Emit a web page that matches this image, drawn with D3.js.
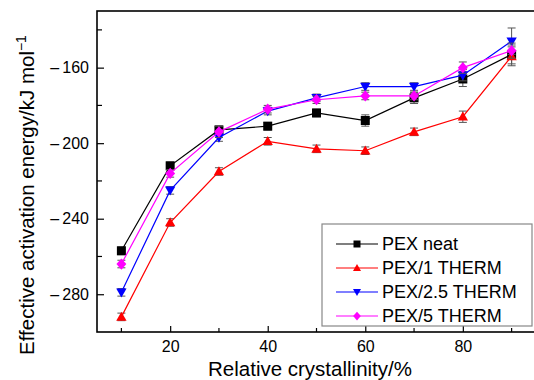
<!DOCTYPE html>
<html>
<head>
<meta charset="utf-8">
<script src="https://cdn.jsdelivr.net/npm/d3@7"></script>
<style>
  body { margin: 0; background: #fff; }
  svg { display: block; font-family: "Liberation Sans", Arial, sans-serif; }
</style>
</head>
<body>
<div id="chart"></div>
<script>
// relative crystallinity (%)
const crystallinity = [10, 20, 30, 40, 50, 60, 70, 80, 90];

const seriesNames = ["PEX neat", "PEX/1 THERM", "PEX/2.5 THERM", "PEX/5 THERM"];
const pexNeat   = [-257, -212, -193, -191, -184, -188, -176, -166, -153];
const pex1      = [-292, -242, -215, -199, -203, -204, -194, -186, -154];
const pex25     = [-279, -225, -197, -183, -176, -170, -170, -164, -146];
const pex5      = [-264, -216, -194, -182, -177, -175, -175, -160, -151];
const errNeat   = [2, 2, 2, 2, 2, 3, 3, 4, 5];
const err1      = [2, 2, 2, 2, 2, 2, 2, 3, 5];
const err25     = [2, 2, 2, 2, 2, 2, 2, 3, 7];
const err5      = [2, 2, 3, 2, 2, 2, 2, 3, 4];

const yTicks = [-160, -200, -240, -280];
const xTicks = [20, 40, 60, 80];

const colors = ["#000000", "#ff0000", "#0000ff", "#ff00ff"];
const symbols = ["square", "up", "down", "diamond"];

const series = seriesNames.map((name, i) => ({
  name,
  color: colors[i],
  symbol: symbols[i],
  values: [pexNeat, pex1, pex25, pex5][i].map((v, j) => ({
    x: crystallinity[j], y: v, e: [errNeat, err1, err25, err5][i][j]
  }))
}));

const W = 534, H = 380;
const margin = {top: 11, left: 97, bottom: 48, right: -2};
const width = W - margin.left - margin.right;
const height = H - margin.top - margin.bottom;

const svg = d3.select("#chart").append("svg")
  .attr("width", W).attr("height", H);
const g = svg.append("g").attr("transform", `translate(${margin.left},${margin.top})`);

const x = d3.scaleLinear().domain([5, 95]).range([0, width]);
const y = d3.scaleLinear().domain([-300, -130]).range([height, 0]);

// frame
g.append("rect")
  .attr("width", width).attr("height", height)
  .attr("fill", "none").attr("stroke", "#000").attr("stroke-width", 1.6);

// x axis (ticks inside)
const xAxisG = g.append("g")
  .attr("transform", `translate(0,${height})`)
  .call(d3.axisBottom(x).tickValues(xTicks).tickSize(-6).tickPadding(9).tickFormat(d3.format("d")));
xAxisG.select(".domain").remove();
xAxisG.selectAll("text").attr("font-size", 16).attr("fill", "#000");
xAxisG.selectAll(".tick line").attr("stroke-width", 1.2);
g.append("g").attr("transform", `translate(0,${height})`)
  .selectAll("line").data([10, 30, 50, 70, 90]).join("line")
  .attr("x1", d => x(d)).attr("x2", d => x(d))
  .attr("y1", 0).attr("y2", -4)
  .attr("stroke", "#000").attr("stroke-width", 1.2);

// y axis (ticks inside)
const yAxisG = g.append("g")
  .call(d3.axisLeft(y).tickValues(yTicks).tickSize(-7).tickPadding(8)
    .tickFormat(d => "\u2013\u2009" + Math.abs(d)));
yAxisG.select(".domain").remove();
yAxisG.selectAll("text").attr("font-size", 16).attr("fill", "#000");
yAxisG.selectAll(".tick line").attr("stroke-width", 1.2);
g.append("g")
  .selectAll("line").data([-140, -180, -220, -260]).join("line")
  .attr("x1", 0).attr("x2", 5)
  .attr("y1", d => y(d)).attr("y2", d => y(d))
  .attr("stroke", "#000").attr("stroke-width", 1.2);

// axis titles
svg.append("text")
  .attr("x", 310).attr("y", 376)
  .attr("text-anchor", "middle")
  .attr("font-size", 20.5)
  .text("Relative crystallinity/%");

const yTitle = svg.append("text")
  .attr("transform", `translate(34,${191 + 4}) rotate(-90)`)
  .attr("text-anchor", "middle")
  .attr("font-size", 20.5);
yTitle.append("tspan").text("Effective activation energy/kJ mol");
yTitle.append("tspan").attr("dy", -8).attr("font-size", 14).text("\u22121");

const symbolPath = (type, s) => {
  if (type === "square") return `M${-s},${-s}H${s}V${s}H${-s}Z`;
  if (type === "up") return `M0,${-s * 1.15}L${s * 1.15},${s * 0.85}L${-s * 1.15},${s * 0.85}Z`;
  if (type === "down") return `M0,${s * 1.15}L${s * 1.15},${-s * 0.85}L${-s * 1.15},${-s * 0.85}Z`;
  return `M0,${-s * 1.25}L${s * 1.1},0L0,${s * 1.25}L${-s * 1.1},0Z`;
};

const line = d3.line().x(d => x(d.x)).y(d => y(d.y));

const sg = g.selectAll("g.series").data(series).join("g").attr("class", "series");

// error bars
sg.each(function(s) {
  const eb = d3.select(this).selectAll("g.err").data(s.values).join("g").attr("class", "err")
    .attr("stroke", "#555").attr("stroke-width", 1);
  eb.append("line")
    .attr("x1", d => x(d.x)).attr("x2", d => x(d.x))
    .attr("y1", d => y(d.y - d.e)).attr("y2", d => y(d.y + d.e));
  eb.append("line")
    .attr("x1", d => x(d.x) - 4).attr("x2", d => x(d.x) + 4)
    .attr("y1", d => y(d.y + d.e)).attr("y2", d => y(d.y + d.e));
  eb.append("line")
    .attr("x1", d => x(d.x) - 4).attr("x2", d => x(d.x) + 4)
    .attr("y1", d => y(d.y - d.e)).attr("y2", d => y(d.y - d.e));
});

sg.append("path")
  .attr("d", s => line(s.values))
  .attr("fill", "none")
  .attr("stroke", s => s.color)
  .attr("stroke-width", 1.2);

sg.each(function(s) {
  d3.select(this).selectAll("path.mk").data(s.values).join("path").attr("class", "mk")
    .attr("transform", d => `translate(${x(d.x)},${y(d.y)})`)
    .attr("d", symbolPath(s.symbol, 4.5))
    .attr("fill", s.color);
});

// legend
const lg = svg.append("g").attr("transform", "translate(322,224)");
lg.append("rect")
  .attr("width", 210).attr("height", 102)
  .attr("fill", "#fff").attr("stroke", "#888").attr("stroke-width", 1.2);
const items = lg.selectAll("g.item").data(series).join("g").attr("class", "item")
  .attr("transform", (d, i) => `translate(0,${20 + i * 24})`);
items.append("line")
  .attr("x1", 14).attr("x2", 56)
  .attr("stroke", d => d.color).attr("stroke-width", 1.2);
items.append("path")
  .attr("transform", "translate(35,0)")
  .attr("d", d => symbolPath(d.symbol, 3.5))
  .attr("fill", d => d.color);
items.append("text")
  .attr("x", 60).attr("y", 6)
  .attr("font-size", 18)
  .text(d => d.name);
</script>
</body>
</html>
